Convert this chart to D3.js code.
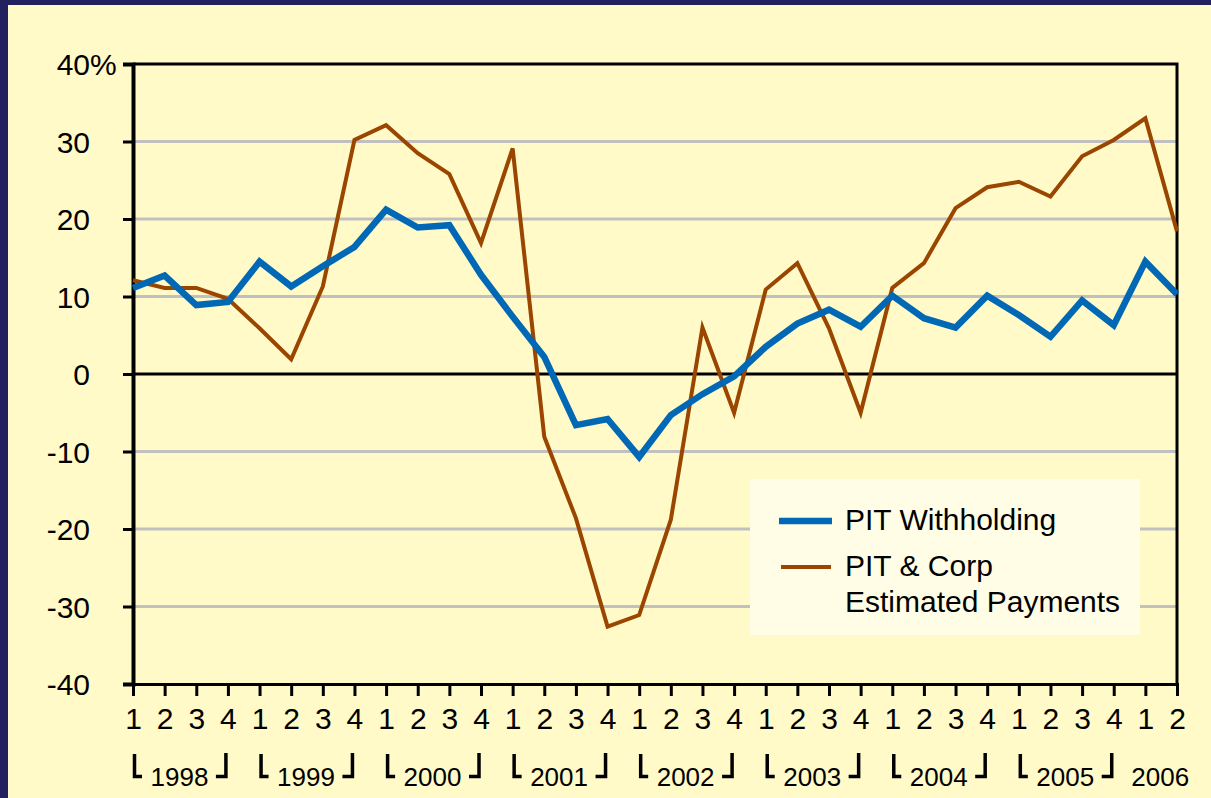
<!DOCTYPE html>
<html>
<head>
<meta charset="utf-8">
<script src="https://cdn.jsdelivr.net/npm/d3@7"></script>
<style>
  body { margin: 0; background: #fffac8; }
  text { font-family: "Liberation Sans", Arial, sans-serif; fill: #000; }
</style>
</head>
<body>
<div id="chart"></div>
<script>
// quarters 1998Q1 .. 2006Q2
var quarters = ["1","2","3","4","1","2","3","4","1","2","3","4","1","2","3","4","1","2","3","4",
                "1","2","3","4","1","2","3","4","1","2","3","4","1","2"];
var years = ["1998","1999","2000","2001","2002","2003","2004","2005","2006"];

var withholding = [11.1, 12.7, 8.9, 9.3, 14.5, 11.3, 13.9, 16.4, 21.2, 18.9, 19.2, 12.8,
                   7.4, 2.2, -6.6, -5.8, -10.7, -5.3, -2.6, -0.3, 3.5, 6.5, 8.3, 6.1,
                   10.1, 7.2, 6.0, 10.1, 7.6, 4.8, 9.5, 6.3, 14.5, 10.3];
var estPayments = [12.1, 11.1, 11.1, 9.7, 5.9, 1.9, 11.3, 30.2, 32.1, 28.5, 25.8, 16.9,
                   29.1, -8.1, -18.6, -32.6, -31.1, -18.8, 6.0, -5.0, 10.9, 14.3, 5.9, -5.0,
                   11.1, 14.3, 21.4, 24.1, 24.8, 22.9, 28.1, 30.2, 33.0, 18.4];
var yTicks = [-40, -30, -20, -10, 0, 10, 20, 30, 40];
var seriesNames = ["PIT Withholding", ["PIT & Corp", "Estimated Payments"]];

var svgWidth = 1211, svgHeight = 798;
var margin = {top: 64, right: 34, bottom: 114, left: 133};
var width = svgWidth - margin.left - margin.right;
var height = svgHeight - margin.top - margin.bottom;
var fontSize = 30;

var svg = d3.select("#chart").append("svg")
    .attr("width", svgWidth)
    .attr("height", svgHeight);

// navy frame (top + left)
svg.append("rect").attr("width", svgWidth).attr("height", svgHeight).attr("fill", "#23205f");
svg.append("rect").attr("x", 8).attr("y", 5).attr("width", svgWidth - 8).attr("height", svgHeight - 5)
    .attr("fill", "#fffac8");

var g = svg.append("g").attr("transform", `translate(${margin.left},${margin.top})`);

var x = d3.scaleLinear().domain([0, quarters.length - 1]).range([0, width]);
var y = d3.scaleLinear().domain([-40, 40]).range([height, 0]);

// grid lines
g.selectAll(".grid").data(yTicks.filter(d => d != 0 && d != 40 && d != -40)).enter()
  .append("line")
    .attr("x1", 0).attr("x2", width)
    .attr("y1", d => y(d)).attr("y2", d => y(d))
    .attr("stroke", "#c0c0c0").attr("stroke-width", 3);

// plot border top/right
g.append("path")
    .attr("d", `M0,${y(40)}H${width}V${height}`)
    .attr("fill", "none").attr("stroke", "#000").attr("stroke-width", 3);

// zero line
g.append("line").attr("x1", 0).attr("x2", width).attr("y1", y(0)).attr("y2", y(0))
    .attr("stroke", "#000").attr("stroke-width", 3);

// y axis
var yAxis = g.append("g")
    .call(d3.axisLeft(y).tickValues(yTicks).tickSize(10).tickPadding(33).tickFormat(d => String(d)));
yAxis.select(".domain").attr("stroke-width", 4);
yAxis.selectAll(".tick line").attr("stroke-width", 3);
yAxis.selectAll(".tick text").attr("font-size", fontSize).attr("font-family", "Liberation Sans, Arial, sans-serif").attr("dy", "0.36em");
yAxis.selectAll(".tick").filter(d => d == 40).append("text")
    .attr("x", -43).attr("dy", "0.36em").attr("font-size", fontSize)
    .attr("text-anchor", "start").attr("fill", "#000").text("%");

// x axis
var xAxis = g.append("g")
    .attr("transform", `translate(0,${height})`)
    .call(d3.axisBottom(x).tickValues(d3.range(quarters.length)).tickSize(12).tickPadding(12)
      .tickFormat(i => quarters[i]));
xAxis.select(".domain").attr("stroke-width", 3);
xAxis.selectAll(".tick line").attr("stroke-width", 3);
xAxis.selectAll(".tick text").attr("font-size", fontSize).attr("font-family", "Liberation Sans, Arial, sans-serif");

// year labels with brackets
years.forEach(function(yr, k) {
  var i0 = k * 4, i1 = Math.min(k * 4 + 3, quarters.length - 1);
  var cx = (x(i0) + x(i1)) / 2;
  var yg = g.append("g").attr("transform", `translate(0,${height})`);
  if (i1 - i0 == 3) {
    yg.append("path")
      .attr("d", `M${x(i0) + 1.5},70V92.5H${x(i0) + 9}`)
      .attr("fill", "none").attr("stroke", "#000").attr("stroke-width", 3.5);
    yg.append("path")
      .attr("d", `M${x(i1) - 2},69V92.5H${x(i1) - 12}`)
      .attr("fill", "none").attr("stroke", "#000").attr("stroke-width", 3.5);
  }
  yg.append("text")
    .attr("x", cx - 1).attr("y", 102)
    .attr("text-anchor", "middle").attr("font-size", 26)
    .text(yr);
});

// lines
var line = d3.line().x((d, i) => x(i)).y(d => y(d));
g.append("path").datum(estPayments)
    .attr("d", line).attr("fill", "none")
    .attr("stroke", "#9a4500").attr("stroke-width", 4).attr("stroke-linejoin", "miter");
g.append("path").datum(withholding)
    .attr("d", line).attr("fill", "none")
    .attr("stroke", "#0068b4").attr("stroke-width", 6.5).attr("stroke-linejoin", "miter");

// legend
var lg = svg.append("g");
lg.append("rect").attr("x", 750).attr("y", 479).attr("width", 390).attr("height", 156)
    .attr("fill", "#fffde6");
lg.append("line").attr("x1", 779).attr("x2", 832).attr("y1", 521).attr("y2", 521)
    .attr("stroke", "#0068b4").attr("stroke-width", 6.5);
lg.append("line").attr("x1", 781).attr("x2", 831).attr("y1", 567).attr("y2", 567)
    .attr("stroke", "#9a4500").attr("stroke-width", 4);
lg.append("text").attr("x", 845).attr("y", 530).attr("font-size", fontSize).text(seriesNames[0]);
lg.append("text").attr("x", 845).attr("y", 576).attr("font-size", fontSize).text(seriesNames[1][0]);
lg.append("text").attr("x", 845).attr("y", 612).attr("font-size", fontSize).text(seriesNames[1][1]);
</script>
</body>
</html>
